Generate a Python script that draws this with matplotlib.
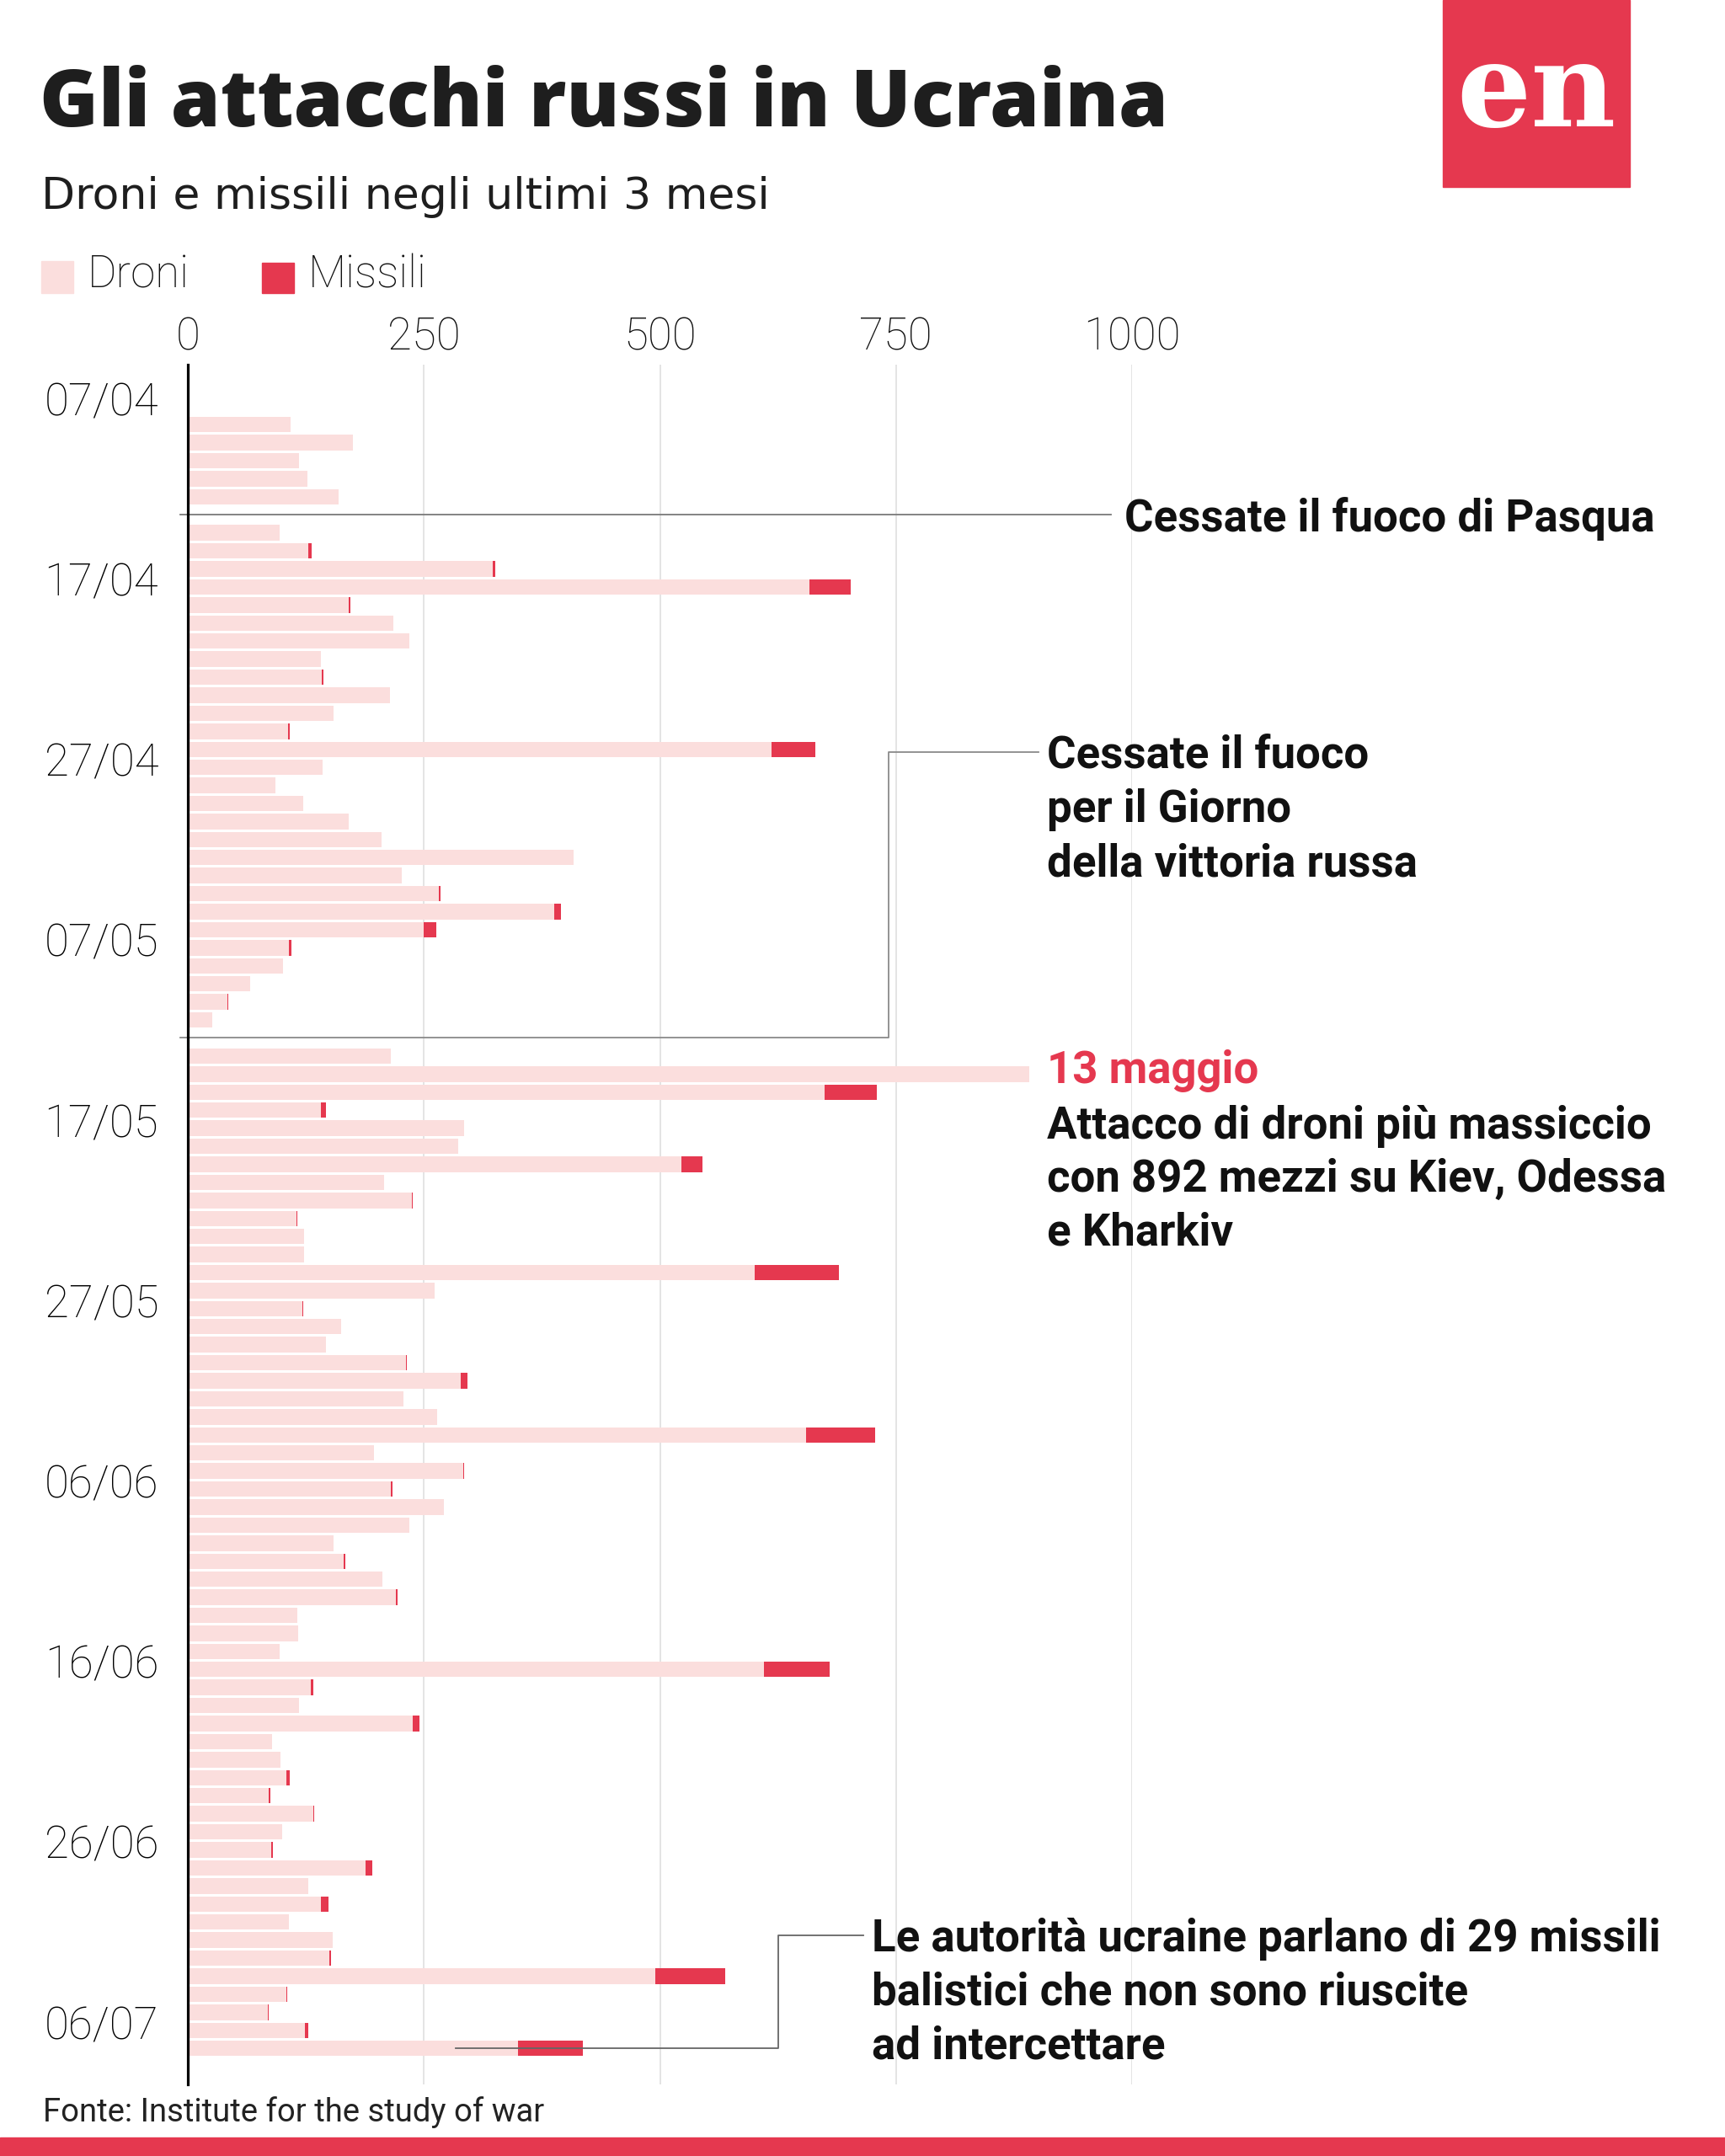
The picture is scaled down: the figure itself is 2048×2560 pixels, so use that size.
import pandas as pd
import matplotlib.pyplot as plt
from matplotlib.patches import Rectangle

RED = "#E5384F"
PINK = "#FBDEDD"

# one row per day, starting 07/04 (None = no data)
start_day = "2025-04-07"
droni = [None, 109, 175, 118, 127, 160, None, 97, 128, 323,
         658, 170, 218, 235, 141, 142, 214, 154, 106, 618,
         143, 93, 122, 170, 205, 409, 227, 266, 388, 250,
         107, 101, 66, 42, 26, None, 215, 891, 674, 141,
         293, 286, 523, 208, 237, 115, 123, 123, 600, 261,
         121, 162, 146, 231, 289, 228, 264, 655, 197, 292,
         215, 271, 235, 154, 165, 206, 220, 116, 117, 97,
         610, 130, 118, 238, 89, 98, 104, 86, 133, 100,
         88, 188, 128, 141, 107, 153, 150, 495, 104, 85,
         124, 350]
missili = [None, 0, 0, 0, 0, 0, None, 0, 3, 3,
           44, 2, 0, 0, 0, 2, 0, 0, 2, 47,
           0, 0, 0, 0, 0, 0, 0, 2, 7, 13,
           3, 0, 0, 1, 0, None, 0, 0, 56, 5,
           0, 0, 22, 0, 1, 1, 0, 0, 90, 0,
           1, 0, 0, 1, 7, 0, 0, 73, 0, 1,
           2, 0, 0, 0, 2, 0, 2, 0, 0, 0,
           70, 3, 0, 7, 0, 0, 4, 1, 1, 0,
           2, 7, 0, 8, 0, 0, 2, 74, 1, 1,
           4, 68]

x_ticks = [0, 250, 500, 750, 1000]
date_labels = ["07/04", "17/04", "27/04", "07/05", "17/05",
               "27/05", "06/06", "16/06", "26/06", "06/07"]

days = pd.date_range(start_day, periods=len(droni))
df = pd.DataFrame({"day": days, "droni": droni, "missili": missili})
df["row"] = range(len(df))
df_ok = df.dropna()

fig = plt.figure(figsize=(20.48, 25.6), dpi=100)

# background layer in pixel coordinates for header / footer
bg = fig.add_axes([0, 0, 1, 1])
bg.set_xlim(0, 2048)
bg.set_ylim(2560, 0)
bg.axis("off")

bg.text(47, 150, "Gli attacchi russi in Ucraina", fontsize=68, fontweight=800,
        family=["Open Sans", "DejaVu Sans"], color="#1e1e1e", va="baseline")
bg.text(49, 248, "Droni e missili negli ultimi 3 mesi", fontsize=37.5,
        family=["DejaVu Sans"], color="#1e1e1e", va="baseline")

bg.add_patch(Rectangle((1713, 0), 222, 222, color=RED))
bg.text(1824, 112, "en", fontsize=100, fontweight="bold", family=["DejaVu Serif"],
        color="white", ha="center", va="center")

bg.add_patch(Rectangle((49, 310), 38, 38, color=PINK))
bg.text(104, 327, "Droni", fontsize=38, fontweight="light", family=["Roboto"],
        color="#111111", va="center")
bg.add_patch(Rectangle((311, 312), 38, 36, color=RED))
bg.text(366, 327, "Missili", fontsize=38, fontweight="light", family=["Roboto"],
        color="#111111", va="center")

bg.text(51, 2508, "Fonte: Institute for the study of war", fontsize=27.5,
        family=["Roboto"], color="#222222", va="center")
bg.add_patch(Rectangle((0, 2538), 2048, 22, color=RED))

# main chart
ax = fig.add_axes([223 / 2048, 85 / 2560, 1121 / 2048, 2042 / 2560])
ax.set_xlim(0, 1000)
ax.set_ylim(93.0, -2.32)

ax.barh(df_ok["row"], df_ok["droni"], height=0.86, color=PINK, zorder=2)
ax.barh(df_ok["row"], df_ok["missili"], left=df_ok["droni"], height=0.86,
        color=RED, zorder=2)

for s in ["top", "right", "bottom"]:
    ax.spines[s].set_visible(False)
ax.spines["left"].set_linewidth(2.3)
ax.spines["left"].set_color("black")
ax.spines["left"].set_zorder(5)

ax.xaxis.tick_top()
ax.set_xticks(x_ticks)
ax.set_xticklabels([str(t) for t in x_ticks], fontsize=38, fontweight="light",
                   family="Roboto", color="#111111")
ax.tick_params(axis="x", length=0, pad=5)
ax.set_yticks([])
ax.grid(axis="x", color="#dcdcdc", linewidth=1.1, zorder=0)
ax.set_axisbelow(True)

for i, lab in enumerate(date_labels):
    ax.text(-31, i * 10 - 0.2, lab, ha="right", va="center", fontsize=38,
            fontweight="light", family="Roboto", color="#000000", clip_on=False)

ann_font = dict(fontsize=38, fontweight="bold", family=["Liberation Sans Narrow", "Roboto"],
                color="#111111", va="center", clip_on=False)
dy = 0.2

# Pasqua
ax.plot([-8, 978], [6, 6], color="#7a7a7a", lw=1.3, clip_on=False, zorder=3)
ax.text(992, 6 + dy, "Cessate il fuoco di Pasqua", **ann_font)

# Giorno della vittoria
ax.plot([901, 742, 742, -8], [19.16, 19.16, 35, 35], color="#8a8a8a", lw=1.3,
        clip_on=False, zorder=3)
for y, line in zip([19.16, 22.15, 25.14],
                   ["Cessate il fuoco", "per il Giorno", "della vittoria russa"]):
    ax.text(910, y + dy, line, **ann_font)

# 13 maggio
ax.text(910, 36.6 + dy, "13 maggio", **{**ann_font, "color": RED})
for y, line in zip([39.69, 42.63, 45.62],
                   ["Attacco di droni più massiccio",
                    "con 892 mezzi su Kiev, Odessa",
                    "e Kharkiv"]):
    ax.text(910, y + dy, line, **ann_font)

# missili balistici
ax.plot([715, 625, 625, 284], [84.75, 84.75, 91, 91], color="#666666", lw=1.3,
        clip_on=False, zorder=4)
for y, line in zip([84.75, 87.69, 90.68],
                   ["Le autorità ucraine parlano di 29 missili",
                    "balistici che non sono riuscite",
                    "ad intercettare"]):
    ax.text(724, y + dy, line, **ann_font)

fig.savefig("out.png", dpi=100)
